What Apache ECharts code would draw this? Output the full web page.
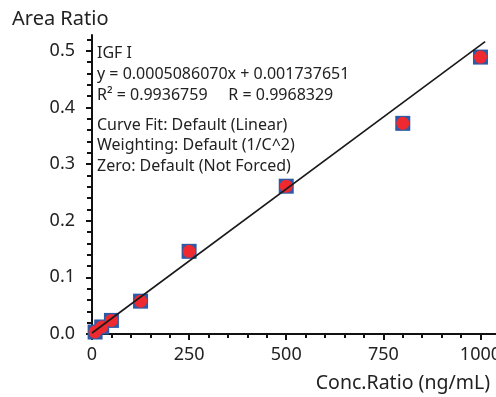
<!DOCTYPE html>
<html>
<head>
<meta charset="utf-8">
<script src="https://cdn.jsdelivr.net/npm/echarts@6/dist/echarts.min.js"></script>
<style>
  html, body { margin: 0; padding: 0; background: #fff; }
  #chart { width: 496px; height: 397px; }
</style>
</head>
<body>
<div id="chart"></div>
<script>
// calibration points (concentration, area ratio)
var conc = [8, 25, 50, 125, 250, 500, 800, 1000];
var areaRatio = [0.0035, 0.0124, 0.024, 0.058, 0.146, 0.261, 0.372, 0.489];

// fit line: y = slope * x + intercept
var slope = 0.0005086070;
var intercept = 0.001737651;
var fitRange = [0, 1012];

var xMajorTicks = [0, 250, 500, 750, 1000];
var xMinorTicks = [0, 50, 100, 150, 200, 250, 300, 350, 400, 450, 500, 550, 600, 650, 700, 750, 800, 850, 900, 950, 1000];
var yMajorTicks = [0, 0.1, 0.2, 0.3, 0.4, 0.5];
var yMinorTicks = [0, 0.02, 0.04, 0.06, 0.08, 0.1, 0.12, 0.14, 0.16, 0.18, 0.2, 0.22, 0.24, 0.26, 0.28, 0.3,
  0.32, 0.34, 0.36, 0.38, 0.4, 0.42, 0.44, 0.46, 0.48, 0.5, 0.52];

var fitInfo = [
  'IGF I',
  'y = 0.0005086070x + 0.001737651',
  'R\u00b2 = 0.9936759     R = 0.9968329'
];
var fitSettings = [
  'Curve Fit: Default (Linear)',
  'Weighting: Default (1/C^2)',
  'Zero: Default (Not Forced)'
];

var FONT = '"Noto Sans", sans-serif';
var TEXT = '#222';

var chart = echarts.init(document.getElementById('chart'));

var points = conc.map(function (c, i) { return [c, areaRatio[i]]; });
var fitLine = fitRange.map(function (x) { return [x, slope * x + intercept]; });

var xMin = 0, xMax = 1040, yMin = 0, yMax = 0.528;

function baseX(extra) {
  return Object.assign({
    type: 'value', min: xMin, max: xMax, position: 'bottom',
    splitLine: { show: false }
  }, extra);
}
function baseY(extra) {
  return Object.assign({
    type: 'value', min: yMin, max: yMax, position: 'left',
    splitLine: { show: false }
  }, extra);
}

var option = {
  animation: false,
  backgroundColor: '#fff',
  grid: { left: 92, right: 0, top: 35, bottom: 63, outerBoundsMode: 'none' },
  xAxis: [
    baseX({
      axisLine: { lineStyle: { color: '#111', width: 2 } },
      axisTick: { show: true, customValues: xMajorTicks, length: 6, lineStyle: { color: '#111', width: 2 } },
      axisLabel: {
        customValues: xMajorTicks, margin: 12,
        color: TEXT, fontSize: 18, fontFamily: FONT,
        formatter: function (v) { return String(v); }
      }
    }),
    baseX({
      axisLine: { show: false },
      axisTick: { show: true, customValues: xMinorTicks, length: 4, lineStyle: { color: '#111', width: 2 } },
      axisLabel: { show: false }
    })
  ],
  yAxis: [
    baseY({
      axisLine: { lineStyle: { color: '#111', width: 2 } },
      axisTick: { show: true, customValues: yMajorTicks, length: 6, lineStyle: { color: '#111', width: 2 } },
      axisLabel: {
        customValues: yMajorTicks, margin: 17,
        color: TEXT, fontSize: 18, fontFamily: FONT,
        formatter: function (v) { return v.toFixed(1); }
      }
    }),
    baseY({
      axisLine: { show: false },
      axisTick: { show: true, customValues: yMinorTicks, length: 5, lineStyle: { color: '#111', width: 2 } },
      axisLabel: { show: false }
    })
  ],
  series: [
    {
      type: 'line', data: fitLine, showSymbol: false, symbol: 'none',
      lineStyle: { color: '#1a1a1a', width: 1.6 }, z: 3
    },
    {
      type: 'scatter', data: points, symbol: 'rect', symbolSize: 15,
      itemStyle: { color: '#2b5aa6', opacity: 1 }, z: 2
    },
    {
      type: 'scatter', data: points, symbol: 'circle', symbolSize: 13,
      itemStyle: { color: '#ee2a30', opacity: 1 }, z: 2
    }
  ],
  graphic: [
    {
      type: 'text', left: 12, top: 9,
      style: { text: 'Area Ratio', fill: TEXT, font: '20px ' + FONT }
    },
    {
      type: 'text', right: 6, top: 373,
      style: { text: 'Conc.Ratio (ng/mL)', fill: TEXT, font: '19.5px ' + FONT }
    },
    {
      type: 'text', left: 97, top: 43,
      style: { text: fitInfo.join('\n'), fill: TEXT, font: '16px ' + FONT, lineHeight: 21 }
    },
    {
      type: 'text', left: 97, top: 115,
      style: { text: fitSettings.join('\n'), fill: TEXT, font: '16px ' + FONT, lineHeight: 20.5 }
    }
  ]
};

chart.setOption(option);
</script>
</body>
</html>
